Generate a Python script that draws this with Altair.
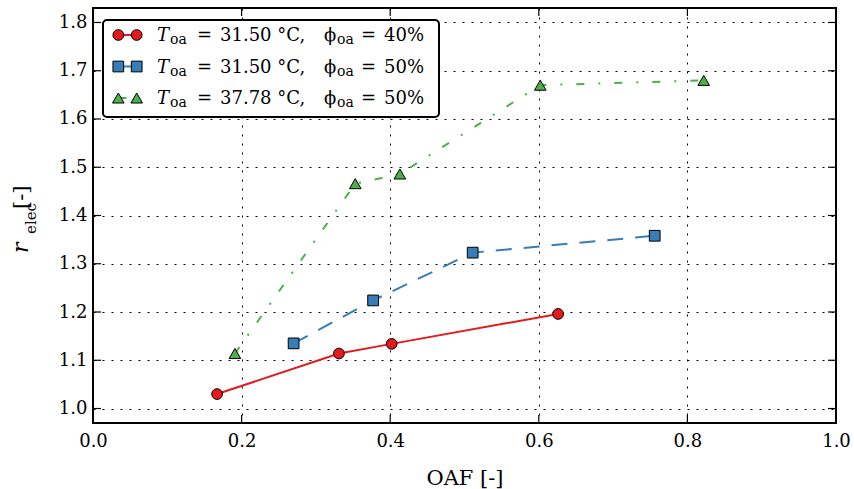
import altair as alt
import pandas as pd

# ---------------- data ----------------
red_oaf = [0.167, 0.331, 0.402, 0.626]
red_r = [1.030, 1.114, 1.134, 1.196]
blue_oaf = [0.270, 0.377, 0.511, 0.756]
blue_r = [1.135, 1.224, 1.323, 1.358]
green_oaf = [0.191, 0.353, 0.413, 0.602, 0.822]
green_r = [1.114, 1.466, 1.486, 1.670, 1.680]

temps = ["31.50 °C,", "31.50 °C,", "37.78 °C,"]
phis = ["40%", "50%", "50%"]
colors = ["#e41a1c", "#377eb8", "#4daf4a"]
shapes = ["circle", "square", "triangle-up"]
x_ticks = [0.0, 0.2, 0.4, 0.6, 0.8, 1.0]
y_ticks = [1.0, 1.1, 1.2, 1.3, 1.4, 1.5, 1.6, 1.7, 1.8]

# ---------------- layout ----------------
W, H = 743, 415
FONT = "DejaVu Serif"
xscale = alt.Scale(domain=[0.0, 1.0], nice=False, zero=False)
yscale = alt.Scale(domain=[0.97, 1.83], nice=False, zero=False)

xaxis = alt.Axis(values=x_ticks, format=".1f", ticks=False, tickSize=0, domain=False,
                 grid=True, gridColor="black", gridDash=[2, 7], gridWidth=1, gridOpacity=1,
                 labelFont=FONT, labelFontSize=18, labelColor="black", labelPadding=9,
                 labelFlush=False,
                 title="OAF [-]", titleFont=FONT, titleFontSize=21, titleFontWeight="normal",
                 titleColor="black", titleBaseline="alphabetic", titleY=61)
yaxis = alt.Axis(values=y_ticks, format=".1f", ticks=False, tickSize=0, domain=False,
                 grid=True, gridColor="black", gridDash=[2, 7], gridWidth=1, gridOpacity=1,
                 labelFont=FONT, labelFontSize=18, labelColor="black", labelPadding=6,
                 labelFlush=False, title=None)

dash_styles = [None, [16, 12], [8, 14, 2, 14]]
sizes = [115, 115, 135]
series = [(red_oaf, red_r), (blue_oaf, blue_r), (green_oaf, green_r)]

layers = []

# inward ticks on all four sides
xt = pd.DataFrame({"v": x_ticks})
yt = pd.DataFrame({"v": y_ticks})
xenc = alt.X("v:Q", scale=xscale, axis=xaxis)
yenc = alt.Y("v:Q", scale=yscale, axis=yaxis)
layers.append(alt.Chart(xt).mark_rule(color="black", strokeWidth=1.2).encode(
    x=xenc, y=alt.value(H), y2=alt.value(H - 8)))
layers.append(alt.Chart(xt).mark_rule(color="black", strokeWidth=1.2).encode(
    x=xenc, y=alt.value(0), y2=alt.value(8)))
layers.append(alt.Chart(yt).mark_rule(color="black", strokeWidth=1.2).encode(
    y=yenc, x=alt.value(0), x2=alt.value(8)))
layers.append(alt.Chart(yt).mark_rule(color="black", strokeWidth=1.2).encode(
    y=yenc, x=alt.value(W - 8), x2=alt.value(W)))

# data lines and markers
for i, (xs, ys) in enumerate(series):
    df = pd.DataFrame({"OAF": xs, "r": ys})
    base = alt.Chart(df).encode(
        x=alt.X("OAF:Q", scale=xscale, axis=xaxis),
        y=alt.Y("r:Q", scale=yscale, axis=yaxis),
    )
    lk = dict(color=colors[i], strokeWidth=2)
    if dash_styles[i] is not None:
        lk["strokeDash"] = dash_styles[i]
    layers.append(base.mark_line(**lk))
for i, (xs, ys) in enumerate(series):
    df = pd.DataFrame({"OAF": xs, "r": ys})
    base = alt.Chart(df).encode(
        x=alt.X("OAF:Q", scale=xscale, axis=xaxis),
        y=alt.Y("r:Q", scale=yscale, axis=yaxis),
    )
    layers.append(base.mark_point(shape=shapes[i], filled=True, fill=colors[i],
                                  stroke="black", strokeWidth=1, size=sizes[i],
                                  opacity=1, fillOpacity=1, strokeOpacity=1))

# ---------------- legend (manual) ----------------
one = pd.DataFrame({"a": [0]})
layers.append(alt.Chart(one).mark_rect(fill="white", stroke="black", strokeWidth=2,
                                       cornerRadius=4).encode(
    x=alt.value(10), x2=alt.value(346), y=alt.value(12), y2=alt.value(109)))

ROW0, ROWSTEP = 27, 31.5
for i in range(3):
    ry = ROW0 + ROWSTEP * i
    lk = dict(color=colors[i], strokeWidth=2)
    if dash_styles[i] is not None:
        lk["strokeDash"] = dash_styles[i]
    layers.append(alt.Chart(one).mark_rule(**lk).encode(
        x=alt.value(25.3), x2=alt.value(43.7), y=alt.value(ry)))
    pts = pd.DataFrame({"px": [25.3, 43.7], "py": [ry, ry]})
    layers.append(alt.Chart(pts).mark_point(shape=shapes[i], filled=True, fill=colors[i],
                                            stroke="black", strokeWidth=1, size=sizes[i],
                                            opacity=1, fillOpacity=1, strokeOpacity=1).encode(
        x=alt.X("px:Q", scale=None), y=alt.Y("py:Q", scale=None)))

rows = []
for i in range(3):
    ry = ROW0 + ROWSTEP * i
    rows += [
        {"t": "T", "px": 157 - 93, "py": ry + 6.2, "kind": "it"},
        {"t": "oa", "px": 170 - 93, "py": ry + 9.2, "kind": "sub"},
        {"t": "=", "px": 197 - 93, "py": ry + 6.2, "kind": "rm"},
        {"t": temps[i], "px": 220 - 93, "py": ry + 6.2, "kind": "rm"},
        {"t": "\u03d5", "px": 324 - 93, "py": ry + 6.2, "kind": "rm"},
        {"t": "oa", "px": 337 - 93, "py": ry + 9.2, "kind": "sub"},
        {"t": "=", "px": 361 - 93, "py": ry + 6.2, "kind": "rm"},
        {"t": phis[i], "px": 384 - 93, "py": ry + 6.2, "kind": "rm"},
    ]
leg = pd.DataFrame(rows)
for kind, fs, style in [("it", 18, "italic"), ("rm", 18, "normal"), ("sub", 14, "normal")]:
    layers.append(alt.Chart(leg).transform_filter(alt.datum.kind == kind).mark_text(
        font=FONT, fontSize=fs, fontStyle=style, color="black", align="left",
        baseline="alphabetic").encode(
        x=alt.X("px:Q", scale=None), y=alt.Y("py:Q", scale=None), text="t:N"))

# y-axis title r_elec[-] (rotated)
ytitle = pd.DataFrame([
    {"t": "r", "px": 28 - 93, "py": 253 - 8, "kind": "it"},
    {"t": "elec", "px": 36 - 93, "py": 234 - 8, "kind": "sub"},
    {"t": "[-]", "px": 28 - 93, "py": 209 - 8, "kind": "rm"},
])
for kind, fs, style in [("it", 22, "italic"), ("rm", 21, "normal"), ("sub", 15, "normal")]:
    layers.append(alt.Chart(ytitle).transform_filter(alt.datum.kind == kind).mark_text(
        font=FONT, fontSize=fs, fontStyle=style, color="black", align="left",
        baseline="alphabetic", angle=270).encode(
        x=alt.X("px:Q", scale=None), y=alt.Y("py:Q", scale=None), text="t:N"))

chart = alt.layer(*layers).properties(
    width=W, height=H,
    autosize=alt.AutoSizeParams(type="none"),
    padding={"left": 93, "top": 8, "right": 18, "bottom": 66},
    background="white",
).configure_view(stroke="black", strokeWidth=2)

chart.save("out.html", embed_options={"renderer": "svg", "actions": False})
